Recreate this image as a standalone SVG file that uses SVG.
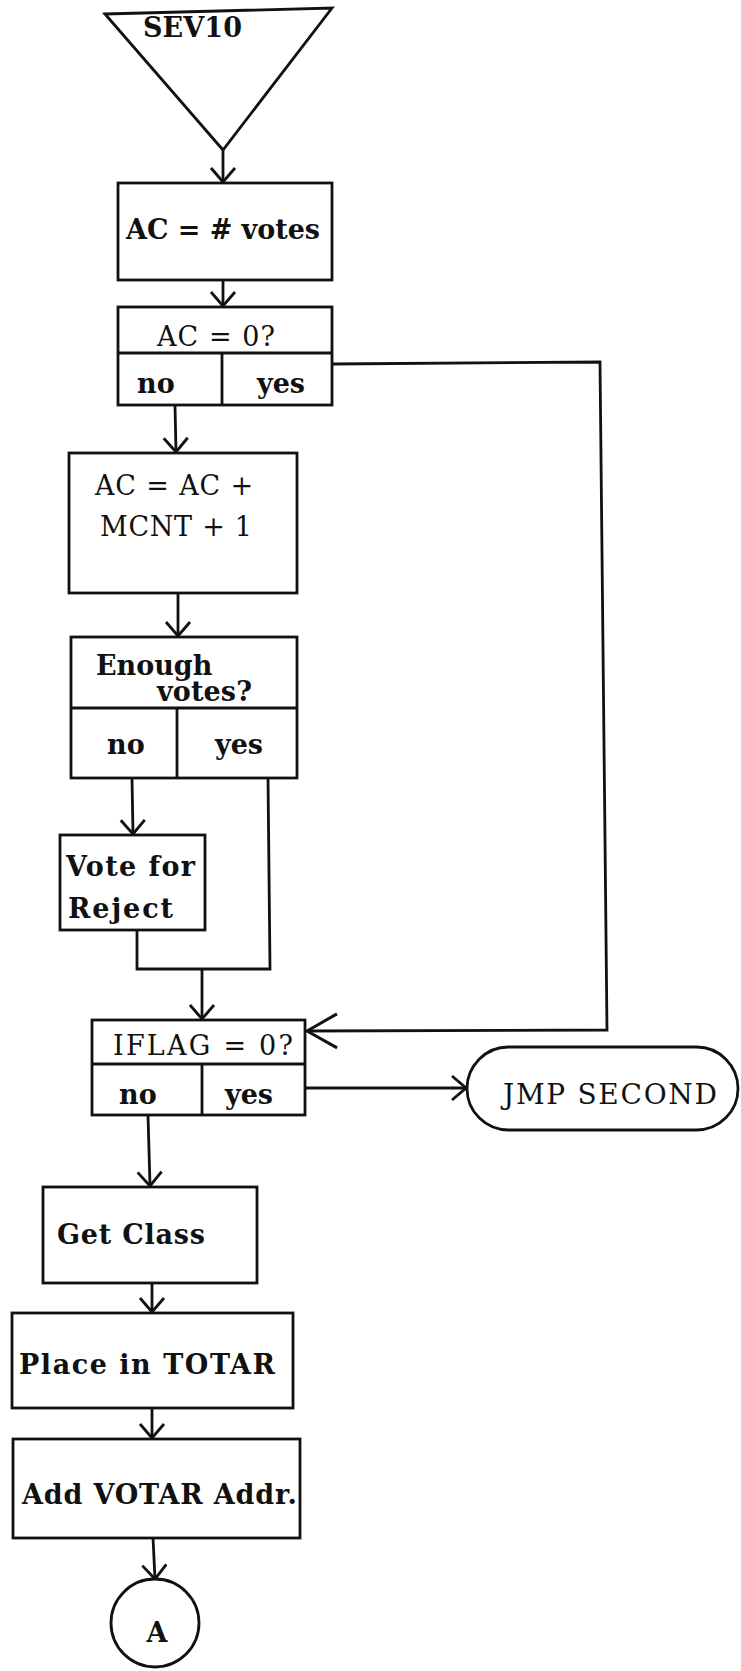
<svg xmlns="http://www.w3.org/2000/svg" width="741" height="1671" viewBox="0 0 741 1671">
<style>
.s{fill:none;stroke:#111;stroke-width:2.8;stroke-linejoin:miter}
.b{fill:#fff;stroke:#111;stroke-width:2.8}
.t{font-family:"DejaVu Serif","Liberation Serif",serif;font-size:27px;fill:#111}
.bo{font-weight:bold}
.c{fill:none;stroke:#111;stroke-width:2.8}
</style>
<defs>
<marker id="ah" markerUnits="userSpaceOnUse" viewBox="-17 -15 19 30" refX="0" refY="0" markerWidth="19" markerHeight="30" orient="auto">
<path d="M-14,-12 L0,0 L-14,12" fill="none" stroke="#111" stroke-width="2.8"/>
</marker>
<marker id="ahl" markerUnits="userSpaceOnUse" viewBox="-32 -20 34 40" refX="0" refY="0" markerWidth="34" markerHeight="40" orient="auto">
<path d="M-30,-17 L0,0 L-30,17" fill="none" stroke="#111" stroke-width="3"/>
</marker>
</defs>
<rect width="741" height="1671" fill="#fff"/>

<g id="connectors">
<path class="c" d="M223,150 L223,182" marker-end="url(#ah)"/>
<path class="c" d="M223,280 L223,306" marker-end="url(#ah)"/>
<path class="c" d="M175,405 L176,452" marker-end="url(#ah)"/>
<path class="c" d="M332,364 L600,362 L607,1030 L307,1031" marker-end="url(#ahl)"/>
<path class="c" d="M178,593 L178,636" marker-end="url(#ah)"/>
<path class="c" d="M132,778 L133,834" marker-end="url(#ah)"/>
<path class="c" d="M268,778 L270,969 L137,969 L137,930"/>
<path class="c" d="M202,969 L202,1019" marker-end="url(#ah)"/>
<path class="c" d="M305,1088 L466,1088" marker-end="url(#ah)"/>
<path class="c" d="M148,1115 L150,1186" marker-end="url(#ah)"/>
<path class="c" d="M152,1283 L152,1312" marker-end="url(#ah)"/>
<path class="c" d="M152,1408 L152,1438" marker-end="url(#ah)"/>
<path class="c" d="M153,1538 L155,1579" marker-end="url(#ah)"/>
</g>

<g id="start">
<polygon class="b" points="105,14 332,8 223,150"/>
<text class="t bo" x="143" y="37" textLength="99">SEV10</text>
</g>

<g id="ac-votes">
<rect class="b" x="118" y="183" width="214" height="97"/>
<text class="t bo" x="126" y="239" textLength="194">AC = # votes</text>
</g>

<g id="ac-zero">
<rect class="b" x="118" y="307" width="214" height="98"/>
<line class="s" x1="118" y1="353" x2="332" y2="353"/>
<line class="s" x1="222" y1="353" x2="222" y2="405"/>
<text class="t" x="157" y="346" textLength="118">AC = 0?</text>
<text class="t bo" x="137" y="393">no</text>
<text class="t bo" x="257" y="393" textLength="48">yes</text>
</g>

<g id="ac-add">
<rect class="b" x="69" y="453" width="228" height="140"/>
<text class="t" x="95" y="495" textLength="158">AC = AC +</text>
<text class="t" x="100" y="536" textLength="152">MCNT + 1</text>
</g>

<g id="enough">
<rect class="b" x="71" y="637" width="226" height="141"/>
<line class="s" x1="71" y1="708" x2="297" y2="708"/>
<line class="s" x1="177" y1="708" x2="177" y2="778"/>
<text class="t bo" x="96" y="675">Enough</text>
<text class="t bo" x="157" y="701" textLength="95">votes?</text>
<text class="t bo" x="107" y="754">no</text>
<text class="t bo" x="215" y="754" textLength="48">yes</text>
</g>

<g id="vote-reject">
<rect class="b" x="60" y="835" width="145" height="95"/>
<text class="t bo" x="66" y="876" textLength="129">Vote for</text>
<text class="t bo" x="68" y="918" textLength="105">Reject</text>
</g>

<g id="iflag">
<rect class="b" x="92" y="1020" width="213" height="95"/>
<line class="s" x1="92" y1="1064" x2="305" y2="1064"/>
<line class="s" x1="202" y1="1064" x2="202" y2="1115"/>
<text class="t" x="113" y="1055" textLength="180">IFLAG = 0?</text>
<text class="t bo" x="119" y="1104">no</text>
<text class="t bo" x="225" y="1104" textLength="48">yes</text>
</g>

<g id="jmp-second">
<rect class="b" x="467" y="1047" width="271" height="83" rx="41.5" ry="41.5"/>
<text class="t" x="503" y="1104" textLength="214" style="font-size:28px">JMP SECOND</text>
</g>

<g id="get-class">
<rect class="b" x="43" y="1187" width="214" height="96"/>
<text class="t bo" x="57" y="1244" textLength="148">Get Class</text>
</g>

<g id="place-totar">
<rect class="b" x="12" y="1313" width="281" height="95"/>
<text class="t bo" x="19" y="1374" textLength="256">Place in TOTAR</text>
</g>

<g id="add-votar">
<rect class="b" x="13" y="1439" width="287" height="99"/>
<text class="t bo" x="22" y="1504" textLength="275">Add VOTAR Addr.</text>
</g>

<g id="connector-a">
<circle class="b" cx="155" cy="1623" r="44"/>
<text class="t bo" x="157" y="1642" text-anchor="middle">A</text>
</g>
</svg>
